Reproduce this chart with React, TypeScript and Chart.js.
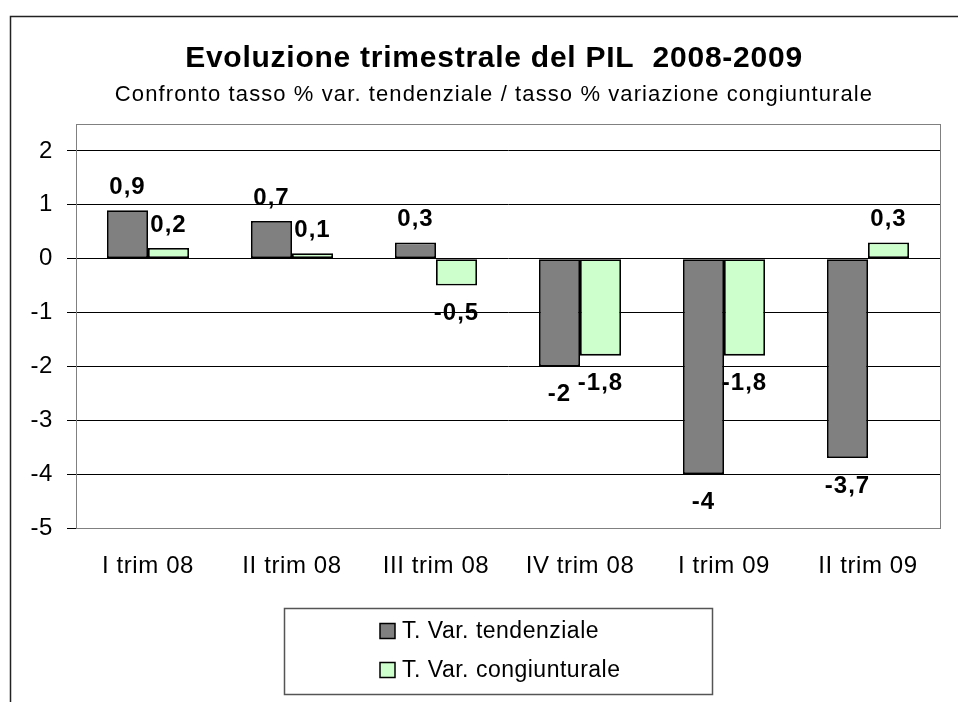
import React, { useEffect, useRef } from "react";
import { Chart, registerables } from "chart.js";

Chart.register(...registerables);

const TITLE = "Evoluzione trimestrale del PIL  2008-2009";
const SUBTITLE = "Confronto tasso % var. tendenziale / tasso % variazione congiunturale";
const categories = ["I trim 08", "II trim 08", "III trim 08", "IV trim 08", "I trim 09", "II trim 09"];
const tendenziale = [0.9, 0.7, 0.3, -2, -4, -3.7];
const congiunturale = [0.2, 0.1, -0.5, -1.8, -1.8, 0.3];
const seriesNames = ["T. Var. tendenziale", "T. Var. congiunturale"];
const yTicks = [-5, -4, -3, -2, -1, 0, 1, 2];

const FONT = "'Liberation Sans', Arial, Helvetica, sans-serif";

const decorPlugin = {
  id: "decor",
  beforeDraw(chart: any) {
    const ctx = chart.ctx;
    ctx.save();
    ctx.fillStyle = "#ffffff";
    ctx.fillRect(0, 0, chart.width, chart.height);
    ctx.strokeStyle = "#222222";
    ctx.lineWidth = 1.5;
    ctx.strokeRect(10.5, 16.5, 1200, 1200);
    ctx.restore();
    ctx.letterSpacing = "0.6px";
  },
  beforeDatasetsDraw(chart: any) {
    const { ctx, chartArea } = chart;
    ctx.save();
    ctx.strokeStyle = "#808080";
    ctx.lineWidth = 1;
    ctx.strokeRect(chartArea.left + 0.5, chartArea.top + 0.5, chartArea.right - chartArea.left, chartArea.bottom - chartArea.top);
    ctx.restore();
  },
  afterDatasetsDraw(chart: any) {
    const ctx = chart.ctx;
    ctx.save();
    ctx.letterSpacing = "1px";
    ctx.font = `bold 24px ${FONT}`;
    ctx.fillStyle = "#000";
    ctx.textAlign = "center";
    ctx.textBaseline = "middle";
    chart.data.datasets.forEach((ds: any, di: number) => {
      const meta = chart.getDatasetMeta(di);
      meta.data.forEach((bar: any, i: number) => {
        const v = ds.data[i];
        const txt = String(v).replace(".", ",");
        const y = v >= 0 ? bar.y - 23 : bar.y + 28;
        ctx.fillText(txt, bar.x, y);
      });
    });
    ctx.restore();
  },
  afterDraw(chart: any) {
    const ctx = chart.ctx;
    ctx.save();
    ctx.fillStyle = "#000";
    ctx.textAlign = "center";
    ctx.textBaseline = "middle";
    ctx.letterSpacing = "0.75px";
    ctx.font = `bold 30px ${FONT}`;
    ctx.fillText(TITLE, 494, 59);
    ctx.letterSpacing = "1.1px";
    ctx.font = `22px ${FONT}`;
    ctx.fillText(SUBTITLE, 494, 95);

    // legend
    ctx.strokeStyle = "#555555";
    ctx.lineWidth = 1.5;
    ctx.strokeRect(284.5, 608.5, 428, 86);
    ctx.textAlign = "left";
    ctx.letterSpacing = "0.5px";
    ctx.font = `23px ${FONT}`;
    const ys = [631, 670];
    chart.data.datasets.forEach((ds: any, di: number) => {
      const y = ys[di];
      ctx.fillStyle = ds.backgroundColor;
      ctx.fillRect(380, y - 7.5, 15, 15);
      ctx.strokeStyle = "#000";
      ctx.lineWidth = 1.5;
      ctx.strokeRect(380, y - 7.5, 15, 15);
      ctx.fillStyle = "#000";
      ctx.fillText(ds.label, 402, y + 1);
    });
    ctx.restore();
  },
};

export default function App() {
  const ref = useRef<HTMLCanvasElement | null>(null);
  useEffect(() => {
    if (!ref.current) return;
    const chart = new Chart(ref.current, {
      type: "bar",
      data: {
        labels: categories,
        datasets: [
          {
            label: seriesNames[0],
            data: tendenziale,
            backgroundColor: "#808080",
            borderColor: "#000000",
            borderWidth: 1.8,
            borderSkipped: false,
          },
          {
            label: seriesNames[1],
            data: congiunturale,
            backgroundColor: "#CCFFCC",
            borderColor: "#000000",
            borderWidth: 1.8,
            borderSkipped: false,
          },
        ],
      },
      options: {
        responsive: false,
        animation: false,
        events: [],
        datasets: { bar: { categoryPercentage: 0.57, barPercentage: 1 } },
        layout: { padding: { left: 0, top: 124, right: 18, bottom: 0 } },
        plugins: { legend: { display: false }, title: { display: false }, tooltip: { enabled: false } },
        scales: {
          x: {
            grid: { display: false, drawTicks: false },
            border: { display: false },
            ticks: { font: { family: FONT, size: 24 }, color: "#000", padding: 24, maxRotation: 0, autoSkip: false },
            afterFit: (s: any) => { s.height = 174; },
          },
          y: {
            min: -5,
            max: 2.5,
            ticks: {
              stepSize: 1,
              font: { family: FONT, size: 24 },
              color: "#000",
              padding: 14,
              callback: (v: any) => String(v),
            },
            afterBuildTicks: (s: any) => {
              s.ticks = yTicks.map((v) => ({ value: v }));
            },
            grid: { color: "#000000", lineWidth: 1, tickLength: 9, drawTicks: true },
            border: { display: true, color: "#000000", width: 1 },
            afterFit: (s: any) => { s.width = 76; },
          },
        },
      },
      plugins: [decorPlugin],
    });
    return () => chart.destroy();
  }, []);
  return (
    <div style={{ position: "fixed", left: 0, top: 0, width: 958, height: 702, background: "#fff" }}>
      <canvas ref={ref} width={958} height={702} style={{ display: "block" }} />
    </div>
  );
}
